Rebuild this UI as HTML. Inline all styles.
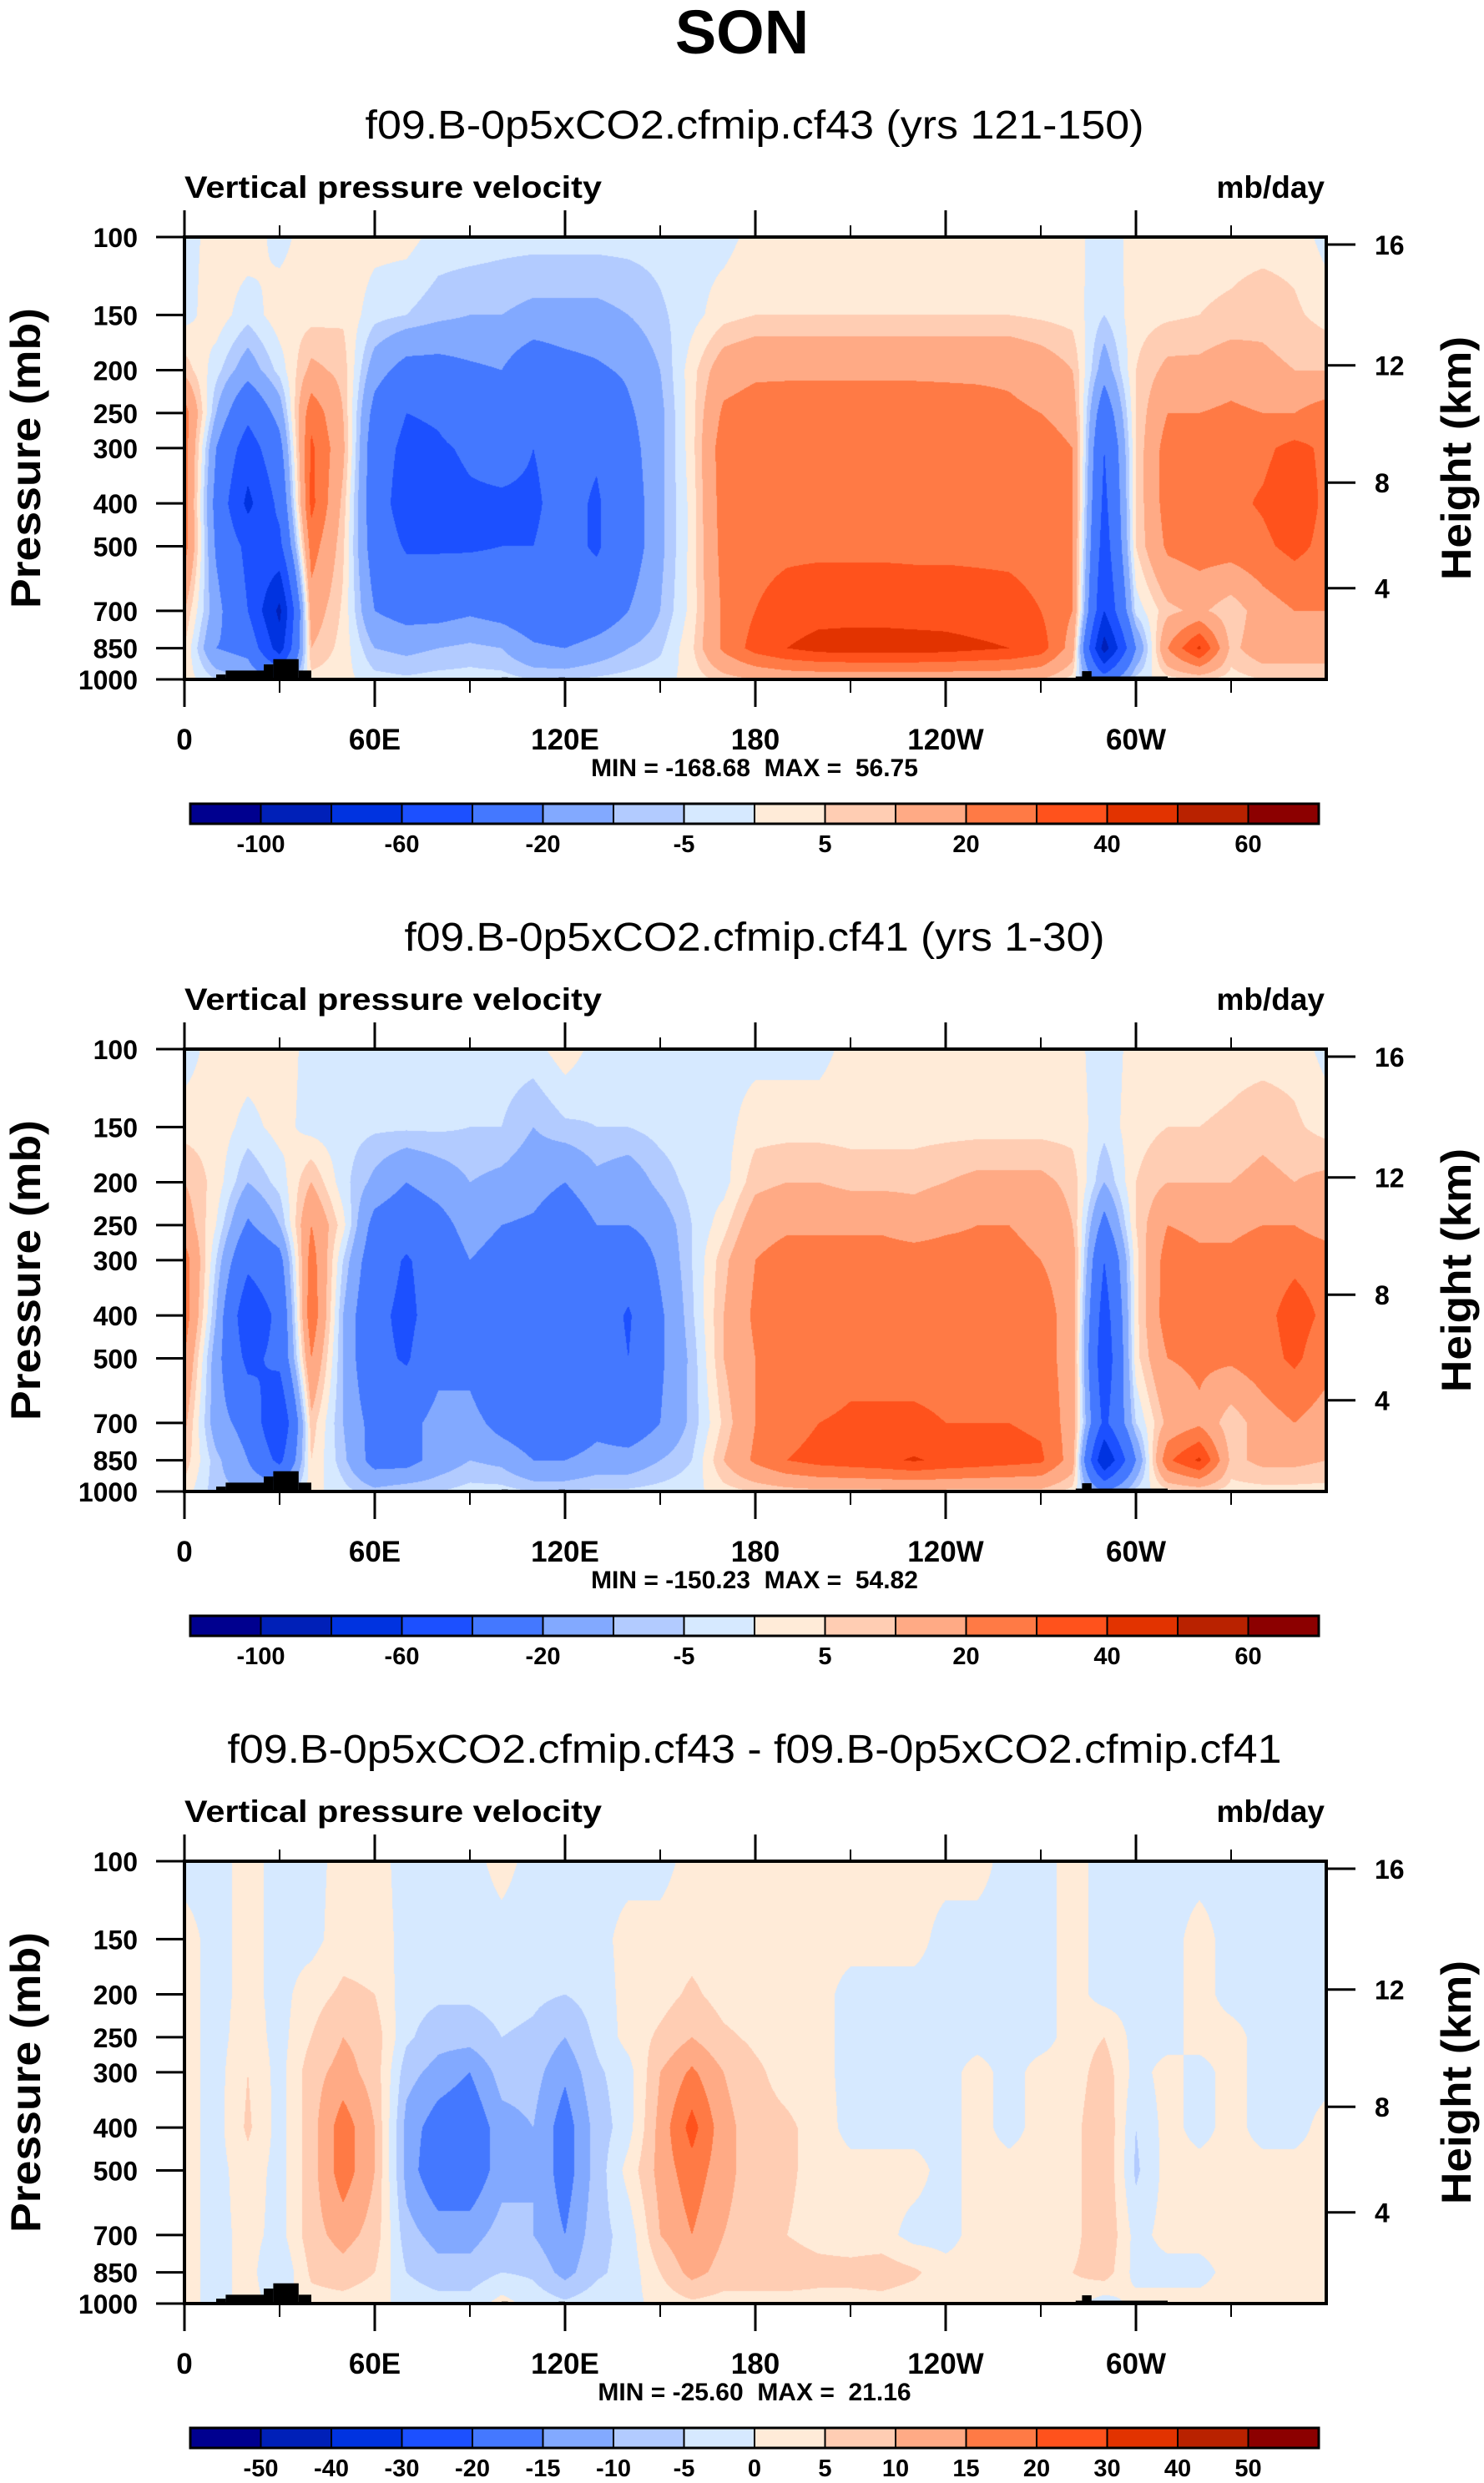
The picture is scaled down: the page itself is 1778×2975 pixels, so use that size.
<!DOCTYPE html>
<html><head><meta charset="utf-8"><title>SON Vertical pressure velocity</title>
<style>
html,body{margin:0;padding:0;background:#fff;}
#wrap{position:relative;width:1778px;height:2975px;overflow:hidden;background:#fff;}
canvas{position:absolute;}
svg{position:absolute;left:0;top:0;}
text{font-family:"Liberation Sans",Arial,sans-serif;fill:#000;}
</style></head>
<body>
<div id="wrap">
<canvas id="c0" width="1368" height="530"></canvas>
<canvas id="c1" width="1368" height="530"></canvas>
<canvas id="c2" width="1368" height="530"></canvas>
<svg id="svg" width="1778" height="2975" viewBox="0 0 1778 2975">
<text x="889" y="64" text-anchor="middle" font-size="74" font-weight="bold">SON</text>
</svg>
</div>
<script>
// ---------- data ----------
const lons = [0,10,20,30,40,50,60,70,80,90,100,110,120,130,140,150,160,170,180,190,200,210,220,230,240,250,260,270,280,290,300,310,320,330,340,350,360];
const levels = [100,150,200,250,300,400,500,700,850,1000];

const fieldA100 = [-2,2,3,-2,3,3,2,2,-2,-2,-3,-3,-3,-3,-3,-3,-2,-2,2,2,2,2,2,2,2,2,2,2,2,-3,2,3,3,3,3,3,-2];
const fieldA150 = [-2,3,-3,3,3,4,-3,-5,-8,-10,-10,-12,-12,-12,-10,-6,-2,3,5,5,5,5,5,5,5,5,5,4,3,-5,3,4,5,6,8,6,3];
const fieldA200 = [8,-3,-15,-3,12,8,-15,-25,-25,-22,-20,-30,-25,-22,-18,-10,3,15,18,18,18,18,18,18,18,18,18,15,10,-15,5,12,12,15,12,10,10];
const fieldA250 = [25,-10,-35,-15,27,10,-25,-40,-38,-30,-25,-35,-30,-35,-22,-12,3,22,25,26,26,26,26,26,25,24,22,20,15,-30,5,20,20,22,20,20,25];
const fieldA300 = [25,-20,-50,-25,32,12,-30,-45,-42,-38,-35,-40,-35,-38,-25,-12,3,26,28,28,28,28,28,28,28,28,27,26,20,-40,5,25,25,27,28,33,28];
const fieldA400 = [25,-25,-65,-35,33,8,-30,-50,-45,-42,-42,-42,-35,-42,-28,-12,2,25,28,28,28,28,28,28,28,28,28,27,20,-45,5,25,27,28,31,36,28];
const fieldA500 = [25,-22,-45,-45,25,6,-28,-42,-42,-42,-40,-40,-35,-42,-28,-12,2,24,27,28,28,28,28,28,28,28,28,27,20,-50,5,22,25,25,28,33,27];
const fieldA700 = [10,-15,-40,-85,15,4,-20,-25,-25,-22,-25,-30,-35,-30,-20,-10,2,22,30,34,36,36,36,35,35,34,33,30,20,-60,-3,8,12,5,15,20,20];
const fieldA850 = [5,-20,-25,-70,10,3,-10,-12,-10,-8,-10,-18,-20,-15,-10,-6,4,22,34,40,44,45,45,45,44,42,40,35,15,-90,-20,20,42,8,15,15,15];
const fieldA1000 = [3,-5,-10,-20,3,2,-3,-4,-3,-3,-3,-5,-5,-4,-3,-2,2,7,10,12,12,12,12,12,12,12,12,10,3,-30,-3,3,5,3,5,5,5];

const fieldB100 = [-3,3,3,3,-2,-2,-3,-3,-3,-2,-2,-2,3,-2,-2,-2,-2,-2,-2,-2,-2,2,2,2,2,2,2,2,2,-3,2,2,2,3,3,3,-2];
const fieldB150 = [3,3,-2,2,-2,-3,-4,-4,-4,-5,-5,-10,-6,-5,-5,-3,-2,-2,3,3,3,3,3,3,3,3,3,3,3,-3,3,5,5,6,8,6,3];
const fieldB200 = [10,3,-10,-3,10,-3,-12,-20,-15,-10,-12,-15,-20,-12,-15,-8,-3,-2,8,10,10,8,8,8,10,12,12,12,8,-10,5,10,10,10,12,10,12];
const fieldB250 = [15,0,-22,-10,20,2,-25,-30,-25,-15,-20,-22,-30,-20,-20,-15,-5,3,15,18,18,18,18,15,18,20,20,18,10,-25,5,20,18,18,20,20,15];
const fieldB300 = [25,-5,-35,-25,25,-5,-30,-42,-30,-20,-25,-28,-35,-25,-30,-18,-5,8,20,25,25,25,25,25,25,24,22,20,15,-40,3,25,22,22,25,28,26];
const fieldB400 = [26,-10,-55,-35,28,-10,-35,-45,-30,-25,-35,-30,-38,-30,-42,-22,-6,10,22,26,26,26,26,26,26,26,26,25,15,-50,3,26,25,25,27,34,28];
const fieldB500 = [20,-15,-45,-35,20,-10,-35,-42,-25,-25,-40,-32,-38,-30,-40,-22,-8,10,20,24,22,26,26,26,26,26,26,25,15,-55,3,20,22,22,26,32,24];
const fieldB700 = [12,-15,-25,-60,8,-10,-25,-25,-15,-15,-25,-30,-35,-25,-30,-20,-8,6,20,25,30,32,32,32,30,30,30,28,15,-45,-5,12,18,5,15,20,15];
const fieldB850 = [8,-8,-20,-45,5,-8,-25,-25,-15,-10,-12,-20,-20,-15,-15,-10,-5,10,22,30,34,36,38,41,38,36,34,32,15,-80,-20,28,42,8,12,12,10];
const fieldB1000 = [3,-8,-10,-10,2,-3,-8,-5,-5,-3,-3,-5,-5,-4,-4,-3,-2,3,5,7,8,8,8,8,8,8,8,8,3,-20,-3,3,5,3,3,3,3];

const fieldC100 = [-2,-2,2,-2,-2,2,2,-2,-2,-2,2,-2,-2,-2,-2,-2,2,2,2,2,2,2,2,2,2,2,-2,-2,2,-2,-2,-2,-2,-2,-2,-2,-2];
const fieldC150 = [2,-2,2,-2,-2,3,3,-2,-3,-3,-2,-3,-2,-2,2,2,3,2,2,2,2,2,2,2,-2,-2,-2,-2,2,-2,-2,-2,2,-2,-2,-2,-2];
const fieldC200 = [2,-2,2,-2,3,6,5,-3,-4,-4,-3,-4,-5,-3,2,3,6,3,2,2,2,-2,-2,-2,-2,-2,-2,-2,2,-2,-2,-2,2,-2,-2,-2,-2];
const fieldC250 = [2,-2,3,-2,5,10,8,-4,-8,-8,-5,-6,-10,-4,2,6,10,6,4,3,2,-2,-2,-2,-2,-2,-2,-2,2,5,-2,-2,2,2,-2,-2,-2];
const fieldC300 = [2,-2,5,-2,8,12,8,-8,-12,-15,-8,-8,-14,-6,-2,10,16,10,6,3,2,-2,-2,-2,-2,2,-2,2,2,8,-2,2,-2,2,-2,-2,-2];
const fieldC400 = [2,-2,6,-2,8,18,10,-12,-18,-20,-12,-10,-18,-8,-2,12,22,12,7,6,3,-2,-2,-2,-2,2,-2,2,3,10,-5,2,-2,2,-2,-2,2];
const fieldC500 = [2,-2,3,-2,8,18,10,-12,-20,-20,-12,-10,-18,-8,2,12,18,12,7,6,3,2,2,2,-2,2,2,2,3,10,-6,2,2,2,2,2,2];
const fieldC700 = [2,-2,2,-2,8,12,8,-8,-12,-12,-8,-10,-15,-7,-3,10,15,10,7,5,3,2,2,-2,-2,2,2,2,3,10,-2,2,2,2,2,2,2];
const fieldC850 = [2,-2,2,-5,6,8,5,-5,-8,-8,-5,-6,-12,-6,-3,5,12,8,8,8,7,7,8,6,2,2,2,2,5,8,-2,-2,-2,2,2,2,2];
const fieldC1000 = [2,-2,2,-2,3,3,2,-2,-3,-3,2,-2,-4,-2,-2,2,4,3,3,3,3,3,3,2,2,2,2,2,2,-3,2,2,2,2,2,2,2];

const boundsAB = [-100,-80,-60,-40,-20,-10,-5,0,5,10,20,30,40,50,60];
const boundsC = [-50,-40,-30,-20,-15,-10,-5,0,5,10,15,20,30,40,50];
const cbLabelsAB = ["-100","","-60","","-20","","-5","","5","","20","","40","","60"];
const cbLabelsC = ["-50","-40","-30","-20","-15","-10","-5","0","5","10","15","20","30","40","50"];
const palette = ["#00008f","#0020b8","#0033e0","#1c50ff","#4478ff","#82a9ff","#b2cbff","#d6e9ff","#ffebd8","#ffcdb3","#ffaa85","#ff7a45","#ff521c","#e23300","#b92200","#8c0000"];

const pressureTicks = [100,150,200,250,300,400,500,700,850,1000];
const heightTicks = ["16","12","8","4"];
const heightTickPressure = [104,195,359,622];
const lonMajorTicks = [0,60,120,180,240,300];
const lonMajorLabels = ["0","60E","120E","180","120W","60W"];
const lonMinorTicks = [30,90,150,210,270,330];

const topoLon0 = [10,13,25,28,36,100,118,281,283];
const topoLon1 = [13,25,28,36,40,102,120,310,286];
const topoTopP = [975,955,925,900,955,990,990,985,958];

const titles = ["f09.B-0p5xCO2.cfmip.cf43 (yrs 121-150)","f09.B-0p5xCO2.cfmip.cf41 (yrs 1-30)","f09.B-0p5xCO2.cfmip.cf43 - f09.B-0p5xCO2.cfmip.cf41"];
const titleWidths = [933,839,1263];
const minMaxText = ["MIN = -168.68  MAX =  56.75","MIN = -150.23  MAX =  54.82","MIN = -25.60  MAX =  21.16"];

// ---------- geometry ----------
const X0 = 221, X1 = 1589, PW = X1 - X0, PH = 530, Y0 = 284, DY = 973;
const xs = lon => X0 + lon / 360 * PW;
const ys = (p, off) => off + Y0 + Math.log10(p / 100) * PH;

const fields = [
  [fieldA100,fieldA150,fieldA200,fieldA250,fieldA300,fieldA400,fieldA500,fieldA700,fieldA850,fieldA1000],
  [fieldB100,fieldB150,fieldB200,fieldB250,fieldB300,fieldB400,fieldB500,fieldB700,fieldB850,fieldB1000],
  [fieldC100,fieldC150,fieldC200,fieldC250,fieldC300,fieldC400,fieldC500,fieldC700,fieldC850,fieldC1000]
];
const boundsSet = [boundsAB, boundsAB, boundsC];
const cbLabelSet = [cbLabelsAB, cbLabelsAB, cbLabelsC];

function hexRGB(h){return [parseInt(h.substr(1,2),16),parseInt(h.substr(3,2),16),parseInt(h.substr(5,2),16)];}
const palRGB = palette.map(hexRGB);
const logLev = levels.map(p => Math.log10(p));

function drawField(ci, grid, bounds){
  const cv = document.getElementById('c' + ci);
  cv.style.left = X0 + 'px';
  cv.style.top = (Y0 + ci * DY) + 'px';
  const ctx = cv.getContext('2d');
  const img = ctx.createImageData(PW, PH);
  const d = img.data;
  const colI = [], colF = [];
  for (let x = 0; x < PW; x++) {
    const lon = (x + 0.5) / PW * 360;
    let i = 0; while (i < lons.length - 2 && lons[i + 1] <= lon) i++;
    colI.push(i); colF.push((lon - lons[i]) / (lons[i + 1] - lons[i]));
  }
  for (let y = 0; y < PH; y++) {
    const lp = 2 + (y + 0.5) / PH;
    let k = 0; while (k < logLev.length - 2 && logLev[k + 1] <= lp) k++;
    const f = Math.min(1, Math.max(0, (lp - logLev[k]) / (logLev[k + 1] - logLev[k])));
    const r0 = grid[k], r1 = grid[k + 1];
    for (let x = 0; x < PW; x++) {
      const i = colI[x], g = colF[x];
      const a = r0[i] * (1 - g) + r0[i + 1] * g;
      const b = r1[i] * (1 - g) + r1[i + 1] * g;
      const v = a * (1 - f) + b * f;
      let c = 0; while (c < bounds.length && v >= bounds[c]) c++;
      const rgb = palRGB[c], o = (y * PW + x) * 4;
      d[o] = rgb[0]; d[o + 1] = rgb[1]; d[o + 2] = rgb[2]; d[o + 3] = 255;
    }
  }
  ctx.putImageData(img, 0, 0);
}

const svg = document.getElementById('svg');
const NS = 'http://www.w3.org/2000/svg';
function mk(tag, attrs, parent){
  const e = document.createElementNS(NS, tag);
  for (const k in attrs) e.setAttribute(k, attrs[k]);
  (parent || svg).appendChild(e);
  return e;
}

for (let pi = 0; pi < 3; pi++) {
  drawField(pi, fields[pi], boundsSet[pi]);
  const off = pi * DY;
  const g = mk('g', {});
  
  

  const t = mk('text', {x: 904, y: 166 + off, 'text-anchor': 'middle', 'font-size': 48, textLength: titleWidths[pi], lengthAdjust: 'spacingAndGlyphs'}, g);
  t.textContent = titles[pi];
  
  

  const lt = mk('text', {x: X0, y: 237 + off, 'font-size': 37, 'font-weight': 'bold', textLength: 500, lengthAdjust: 'spacingAndGlyphs'}, g);
  lt.textContent = 'Vertical pressure velocity';
  
  

  const ut = mk('text', {x: X1 - 2, y: 237 + off, 'text-anchor': 'end', 'font-size': 37, 'font-weight': 'bold'}, g);
  ut.textContent = 'mb/day';
  
  

  for (let k = 0; k < topoLon0.length; k++) {
    const yt = ys(topoTopP[k], off);
    const r = mk('rect', {x: xs(topoLon0[k]), y: yt, width: xs(topoLon1[k]) - xs(topoLon0[k]), height: ys(1000, off) - yt, fill: '#000'}, g);
    
    
  }

  const fr = mk('rect', {x: X0, y: Y0 + off, width: PW, height: PH, fill: 'none', stroke: '#000', 'stroke-width': 4}, g);
  
  

  for (let k = 0; k < pressureTicks.length; k++) {
    const y = ys(pressureTicks[k], off);
    const l = mk('line', {x1: 187, x2: X0, y1: y, y2: y, stroke: '#000', 'stroke-width': 3}, g);
    
    
    const tx = mk('text', {x: 165, y: y + 12, 'text-anchor': 'end', 'font-size': 32, 'font-weight': 'bold'}, g);
    tx.textContent = String(pressureTicks[k]);
    
    
  }
  for (let k = 0; k < heightTicks.length; k++) {
    const y = ys(heightTickPressure[k], off);
    const l = mk('line', {x1: X1, x2: 1624, y1: y, y2: y, stroke: '#000', 'stroke-width': 3}, g);
    
    
    const tx = mk('text', {x: 1647, y: y + 12, 'font-size': 32, 'font-weight': 'bold'}, g);
    tx.textContent = heightTicks[k];
    
    
  }
  for (let k = 0; k < lonMajorTicks.length; k++) {
    const x = xs(lonMajorTicks[k]);
    const a = mk('line', {x1: x, x2: x, y1: Y0 + off - 32, y2: Y0 + off, stroke: '#000', 'stroke-width': 3}, g);
    
    
    const b = mk('line', {x1: x, x2: x, y1: Y0 + PH + off, y2: Y0 + PH + off + 33, stroke: '#000', 'stroke-width': 3}, g);
    
    
    const tx = mk('text', {x: x, y: 898 + off, 'text-anchor': 'middle', 'font-size': 35, 'font-weight': 'bold'}, g);
    tx.textContent = lonMajorLabels[k];
    
    
  }
  for (let k = 0; k < lonMinorTicks.length; k++) {
    const x = xs(lonMinorTicks[k]);
    const a = mk('line', {x1: x, x2: x, y1: Y0 + off - 14, y2: Y0 + off, stroke: '#000', 'stroke-width': 2}, g);
    
    
    const b = mk('line', {x1: x, x2: x, y1: Y0 + PH + off, y2: Y0 + PH + off + 16, stroke: '#000', 'stroke-width': 2}, g);
    
    
  }

  const py = mk('text', {x: 0, y: 0, transform: 'translate(48,' + (549 + off) + ') rotate(-90)', 'text-anchor': 'middle', 'font-size': 50, 'font-weight': 'bold', textLength: 360, lengthAdjust: 'spacingAndGlyphs'}, g);
  py.textContent = 'Pressure (mb)';
  
  
  const hy = mk('text', {x: 0, y: 0, transform: 'translate(1762,' + (549 + off) + ') rotate(-90)', 'text-anchor': 'middle', 'font-size': 50, 'font-weight': 'bold', textLength: 292, lengthAdjust: 'spacingAndGlyphs'}, g);
  hy.textContent = 'Height (km)';
  
  

  const mm = mk('text', {x: 904, y: 930 + off, 'text-anchor': 'middle', 'font-size': 30, 'font-weight': 'bold', 'style': 'white-space:pre'}, g);
  mm.textContent = minMaxText[pi];
  
  

  const cbx = 228, cbw = 1352 / palette.length, cby = 963 + off, cbh = 24;
  for (let k = 0; k < palette.length; k++) {
    const r = mk('rect', {x: cbx + k * cbw, y: cby, width: cbw, height: cbh, fill: palette[k], stroke: '#000', 'stroke-width': 2}, g);
    
    
  }
  const cbf = mk('rect', {x: cbx, y: cby, width: 1352, height: cbh, fill: 'none', stroke: '#000', 'stroke-width': 3}, g);
  
  
  const labs = cbLabelSet[pi];
  for (let k = 0; k < labs.length; k++) {
    if (!labs[k]) continue;
    const tx = mk('text', {x: cbx + (k + 1) * cbw, y: 1021 + off, 'text-anchor': 'middle', 'font-size': 29, 'font-weight': 'bold'}, g);
    tx.textContent = labs[k];
    
    
  }
}
</script>
</body></html>
